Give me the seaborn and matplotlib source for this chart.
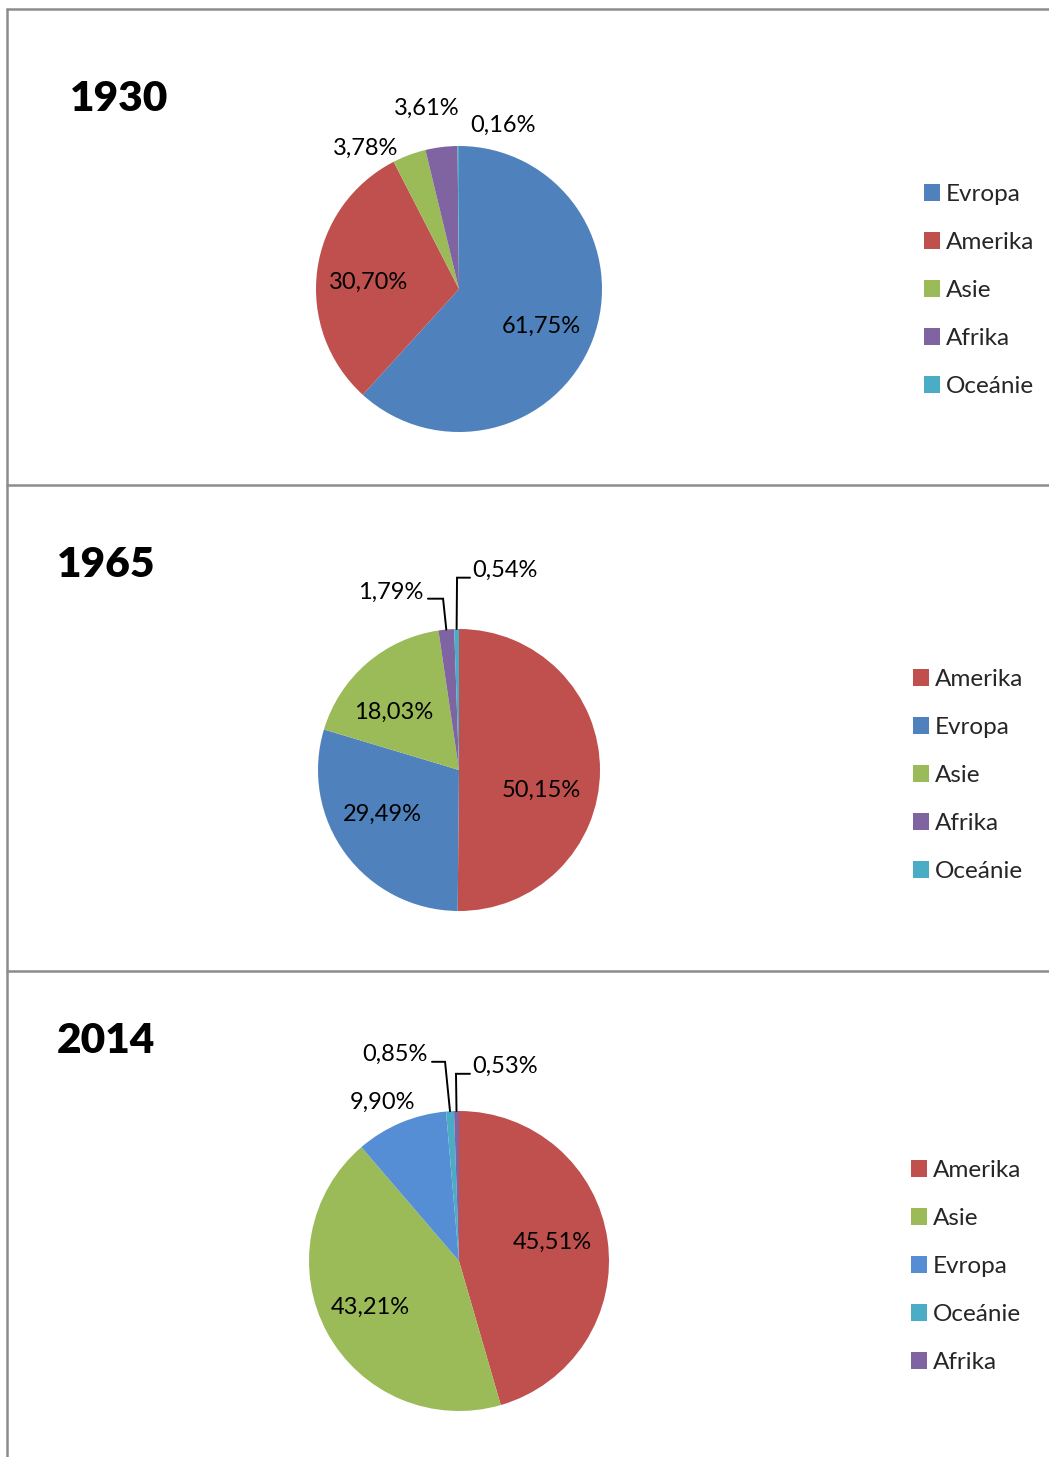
import numpy as np
import matplotlib
matplotlib.use("Agg")
import matplotlib.pyplot as plt
import seaborn as sns

# Data: share of world (in %) per continent, three years
regions_1930 = ["Evropa", "Amerika", "Asie", "Afrika", "Oceánie"]
share_1930 = [61.75, 30.70, 3.78, 3.61, 0.16]

regions_1965 = ["Amerika", "Evropa", "Asie", "Afrika", "Oceánie"]
share_1965 = [50.15, 29.49, 18.03, 1.79, 0.54]

regions_2014 = ["Amerika", "Asie", "Evropa", "Oceánie", "Afrika"]
share_2014 = [45.51, 43.21, 9.90, 0.85, 0.53]

years = ["1930", "1965", "2014"]

# Colours (Office-like palette)
colors = {"Evropa": "#4F81BD", "Amerika": "#C0504D", "Asie": "#9BBB59",
          "Afrika": "#8064A2", "Oceánie": "#4BACC6"}
colors_2014 = dict(colors, Evropa="#558ED5")

sns.set_style("white")
plt.rcParams["font.family"] = ["Lato", "DejaVu Sans"]

W, H = 1049, 1457
fig = plt.figure(figsize=(W / 100, H / 100), dpi=100)

# layout per panel (pixels / radius units)
layout = [
    dict(center=(459, 289), r=143, title=(70, 99), legend=(924, 184),
         labels=[(0.573, -0.262), (-0.636, 0.046), (-0.650, 0.983),
                 (-0.224, 1.263), (0.308, 1.144)],
         leaders={}),
    dict(center=(459, 770), r=141, title=(57, 565), legend=(913, 669),
         labels=[(0.582, -0.145), (-0.546, -0.315), (-0.461, 0.408),
                 (-0.482, 1.260), (0.326, 1.416)],
         leaders={3: (-0.113, 1.215, -0.22), 4: (-0.014, 1.364, 0.078)}),
    dict(center=(459, 1261), r=150, title=(57, 1041), legend=(911, 1160),
         labels=[(0.62, 0.123), (-0.593, -0.31), (-0.513, 1.057),
                 (-0.427, 1.377), (0.307, 1.297)],
         leaders={3: (-0.093, 1.328, -0.18), 4: (-0.02, 1.248, 0.073)}),
]

datasets = [(regions_1930, share_1930, colors),
            (regions_1965, share_1965, colors),
            (regions_2014, share_2014, colors_2014)]

for year, (regions, shares, cmap), lay in zip(years, datasets, layout):
    cx, cy = lay["center"]
    r = lay["r"]
    ax = fig.add_axes([(cx - r) / W, 1 - (cy + r) / H, 2 * r / W, 2 * r / H])
    wedges, _ = ax.pie(shares, colors=[cmap[g] for g in regions],
                       startangle=90, counterclock=False, radius=1,
                       wedgeprops=dict(linewidth=0))
    ax.set_xlim(-1, 1)
    ax.set_ylim(-1, 1)
    ax.set_aspect("equal")
    ax.axis("off")

    for i, (w, v) in enumerate(zip(wedges, shares)):
        lx, ly = lay["labels"][i]
        txt = f"{v:.2f}%".replace(".", ",")
        ax.text(lx, ly, txt, ha="center", va="center", fontsize=17,
                color="black", clip_on=False)
        if i in lay["leaders"]:
            ex, ey, tx = lay["leaders"][i]
            mid = np.deg2rad((w.theta1 + w.theta2) / 2)
            px, py = np.cos(mid), np.sin(mid)
            ax.plot([px, ex, tx], [py, ey, ey], color="black", lw=1.4,
                    clip_on=False, solid_joinstyle="miter")

    tx, ty = lay["title"]
    fig.text(tx / W, 1 - ty / H, year, fontsize=30.5, fontweight="heavy",
             color="black", ha="left", va="center")

    lgx, lgy = lay["legend"]
    fig.legend(wedges, regions, loc="upper left",
               bbox_to_anchor=(lgx / W, 1 - lgy / H),
               frameon=False, fontsize=17.5, handlelength=0.66,
               handleheight=0.66, handletextpad=0.25, labelspacing=1.11,
               borderpad=0, borderaxespad=0)

# panel frame lines
line_kw = dict(color="#8C8C8C", lw=1.8, transform=fig.transFigure)
fig.add_artist(plt.Line2D([7 / W, 1], [1 - 9 / H, 1 - 9 / H], **line_kw))
fig.add_artist(plt.Line2D([7 / W, 7 / W], [1 - 9 / H, 0], **line_kw))
fig.add_artist(plt.Line2D([7 / W, 1], [1 - 485 / H, 1 - 485 / H], **line_kw))
fig.add_artist(plt.Line2D([7 / W, 1], [1 - 971 / H, 1 - 971 / H], **line_kw))

fig.savefig("out.png", dpi=100, facecolor="white")
